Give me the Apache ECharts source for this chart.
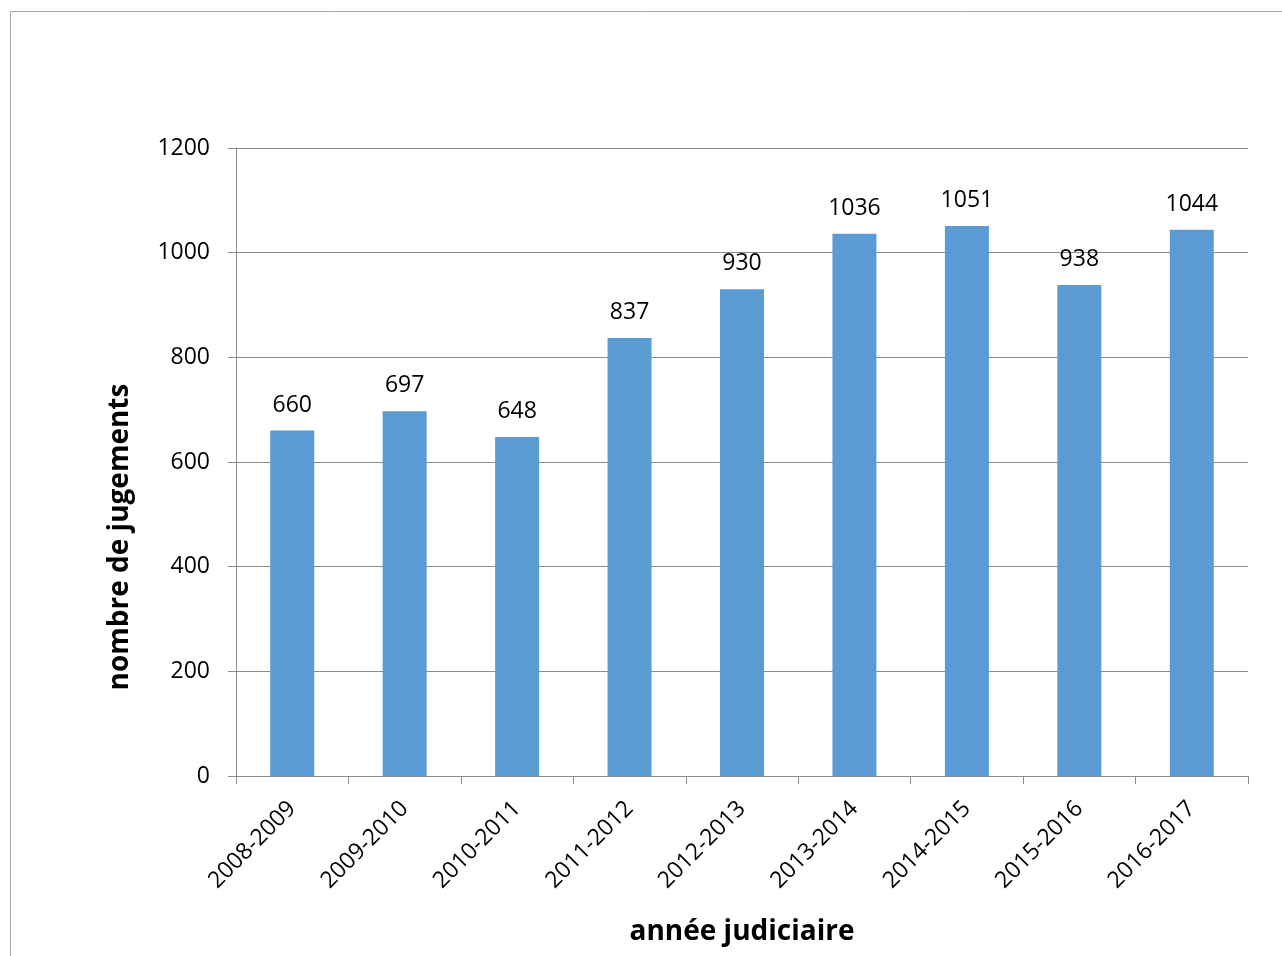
<!DOCTYPE html>
<html>
<head>
<meta charset="utf-8">
<script src="https://cdn.jsdelivr.net/npm/echarts@6/dist/echarts.min.js"></script>
<style>
  html, body { margin: 0; padding: 0; background: #fff; }
  #chart { width: 1282px; height: 956px; }
</style>
</head>
<body>
<div id="chart"></div>
<script>
// années judiciaires
var categories = ['2008-2009', '2009-2010', '2010-2011', '2011-2012', '2012-2013',
  '2013-2014', '2014-2015', '2015-2016', '2016-2017'];
// nombre de jugements
var values = [660, 697, 648, 837, 930, 1036, 1051, 938, 1044];

var font = 'Open Sans';
var myChart = echarts.init(document.getElementById('chart'));

var option = {
  backgroundColor: '#fff',
  animation: false,
  graphic: [{
    type: 'rect',
    shape: { x: 10.5, y: 11.5, width: 1400, height: 1100 },
    style: { fill: 'none', stroke: '#a6a6a6', lineWidth: 1 }
  }],
  grid: { left: 236, right: 34, top: 148, bottom: 180, outerBoundsMode: 'none' },
  xAxis: {
    type: 'category',
    data: categories,
    name: 'année judiciaire',
    nameLocation: 'middle',
    nameGap: 142,
    nameTextStyle: { fontFamily: font, fontSize: 28, fontWeight: 'bold', color: '#000' },
    axisLine: { lineStyle: { color: '#8c8c8c' } },
    axisTick: { show: true, length: 8, lineStyle: { color: '#8c8c8c' } },
    axisLabel: { rotate: 45, margin: 29, fontFamily: font, fontSize: 23, color: '#000' }
  },
  yAxis: {
    type: 'value',
    min: 0,
    max: 1200,
    interval: 200,
    name: 'nombre de jugements',
    nameLocation: 'middle',
    nameGap: 102,
    // le titre est décalé vers le bas par rapport au centre de l'axe
    nameTextStyle: {
      fontFamily: font, fontSize: 28, fontWeight: 'bold', color: '#000',
      padding: [0, 150, 0, 0]
    },
    axisLine: { show: true, lineStyle: { color: '#8c8c8c' } },
    axisTick: { show: true, length: 8, lineStyle: { color: '#8c8c8c' } },
    axisLabel: {
      margin: 26, fontFamily: font, fontSize: 23, color: '#000',
      formatter: function (v) { return String(v); }
    },
    splitLine: { lineStyle: { color: '#8c8c8c' } }
  },
  series: [{
    type: 'bar',
    data: values,
    barWidth: 44,
    itemStyle: { color: '#5b9bd5' },
    label: {
      show: true,
      position: 'top',
      distance: 14,
      fontFamily: font,
      fontSize: 23,
      color: '#000'
    }
  }]
};

myChart.setOption(option);
</script>
</body>
</html>
